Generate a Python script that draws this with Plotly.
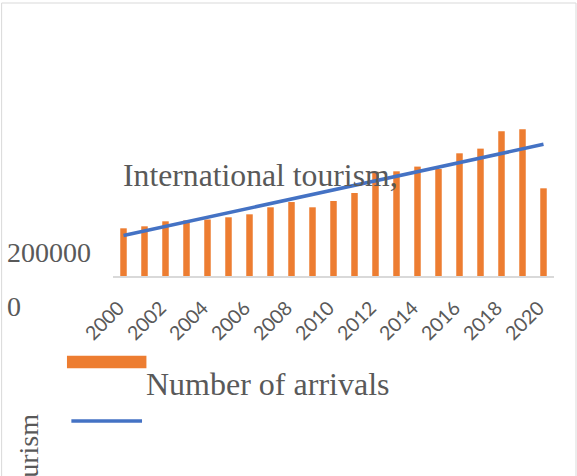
import numpy as np
import plotly.graph_objects as go

# ---- data ----
years = list(range(2000, 2021))
arrivals = [177300, 184700, 203300, 207000, 210000, 218200, 229300, 255400, 275000,
            255400, 278800, 308500, 387700, 389200, 406700, 397700, 456100, 473500,
            537900, 545300, 326000]
tick_years = list(range(2000, 2021, 2))
y_ticks = [0, 200000]
title_text = "International tourism,"
legend_bar = "Number of arrivals"
axis_title = "International tourism"

# linear trendline (as in the original spreadsheet chart)
slope, intercept = np.polyfit(years, arrivals, 1)
trend_x = [years[0], years[-1]]
trend_y = [slope * x + intercept for x in trend_x]

# ---- geometry helpers (pixel -> paper) ----
W, H = 577, 476
L, R, T, B = 113.3, 23, 40, 200
PW, PH = W - L - R, H - T - B


def px(x):
    return (x - L) / PW


def py(y):
    return (H - B - y) / PH


ymax = PH / 53.8 * 200000

serif = "Liberation Serif"
grey = "#595959"

fig = go.Figure()
fig.add_trace(go.Bar(x=years, y=arrivals, width=0.31, marker_color="#ED7D31",
                     marker_line_width=0, name=legend_bar, showlegend=False))
fig.add_trace(go.Scatter(x=trend_x, y=trend_y, mode="lines",
                         line=dict(color="#4472C4", width=3.5),
                         name="Linear trend", showlegend=False))

fig.update_layout(
    width=W, height=H,
    margin=dict(l=L, r=R, t=T, b=B, autoexpand=False),
    paper_bgcolor="white", plot_bgcolor="white",
    bargap=0.69,
    xaxis=dict(range=[1999.5, 2020.5], tickmode="array", tickvals=tick_years,
               ticktext=[str(v) for v in tick_years], tickangle=-45,
               tickfont=dict(family="Lato", size=19.5, color=grey),
               showline=True, linecolor="#d9d9d9", linewidth=2,
               showgrid=False, zeroline=False, ticks="",
               ticklabelstandoff=11, ticklabelshift=-5),
    yaxis=dict(range=[0, ymax], tickmode="array", tickvals=y_ticks,
               ticktext=["0", "200000"], showgrid=False, zeroline=False,
               showline=False, ticks="",
               ticklabelposition="inside", ticklabeloverflow="allow",
               ticklabelstandoff=-109, ticklabelshift=30,
               tickfont=dict(family=serif, size=28, color=grey)),
)

# chart title (overlapping the plot, as in the original)
fig.add_annotation(text=title_text, xref="paper", yref="paper",
                   x=px(121), y=py(175), xanchor="left", yanchor="middle",
                   showarrow=False, font=dict(family=serif, size=31.7, color=grey))

# legend (drawn manually to mimic original layout)
fig.add_shape(type="rect", xref="paper", yref="paper",
              x0=px(67.3), x1=px(146.7), y0=py(368.3), y1=py(355.7),
              fillcolor="#ED7D31", line_width=0)
fig.add_shape(type="line", xref="paper", yref="paper",
              x0=px(71.7), x1=px(142.3), y0=py(421), y1=py(421),
              line=dict(color="#4472C4", width=3.5))
fig.add_annotation(text=legend_bar, xref="paper", yref="paper",
                   x=px(144.5), y=py(384), xanchor="left", yanchor="middle",
                   showarrow=False, font=dict(family=serif, size=32, color=grey))

# rotated axis title, mostly cut off at the bottom (as in the original)
fig.add_annotation(text=axis_title, xref="paper", yref="paper", textangle=-90,
                   x=px(28), y=py(412), xanchor="center", yanchor="top",
                   showarrow=False, font=dict(family=serif, size=28, color=grey))

# chart area border
fig.add_shape(type="rect", xref="paper", yref="paper",
              x0=px(2), x1=px(576), y0=py(600), y1=py(3),
              line=dict(color="#d9d9d9", width=1), fillcolor="rgba(0,0,0,0)")

fig.write_html("out.html", config={"displayModeBar": False},
               post_script="document.body.style.margin='0px';"
                           "document.body.style.overflow='hidden';")
